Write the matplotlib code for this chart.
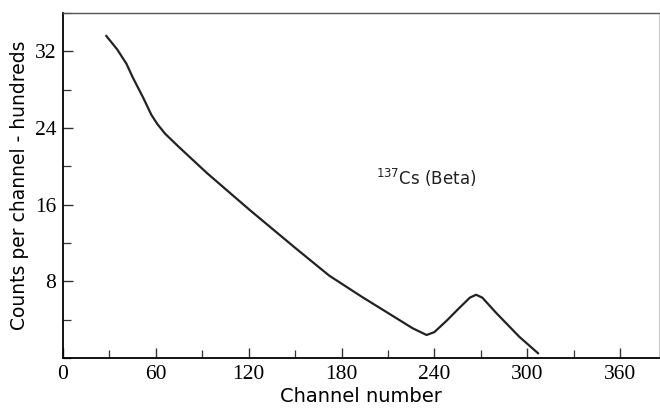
import matplotlib.pyplot as plt
from matplotlib.ticker import MultipleLocator

# 137Cs beta spectrum
channel = [28, 35, 41, 45, 52, 57, 61, 66, 75, 93, 121, 150, 172, 193, 205, 226,
           235, 240, 248, 256, 263, 267, 271, 280, 295, 307]
counts = [33.6, 32.2, 30.7, 29.3, 27.1, 25.4, 24.4, 23.4, 22.0, 19.3, 15.4, 11.5,
          8.6, 6.4, 5.2, 3.1, 2.4, 2.7, 3.9, 5.2, 6.3, 6.6, 6.3, 4.7, 2.2, 0.5]
xticks = [0, 60, 120, 180, 240, 300, 360]
yticks = [8, 16, 24, 32]

fig = plt.figure(figsize=(6.6, 4.19), dpi=100)
ax = fig.add_axes([0.0955, 0.1456, 0.9025, 0.8234])
ax.plot(channel, counts, color='#222222', lw=1.6, solid_joinstyle='round')

ax.set_xlim(0, 385)
ax.set_ylim(0, 36)
ax.set_xticks(xticks)
ax.set_yticks(yticks)
ax.xaxis.set_minor_locator(MultipleLocator(30))
ax.yaxis.set_minor_locator(MultipleLocator(4))
ax.tick_params(which='both', direction='in', top=False, right=False, color='#333333')
ax.tick_params(which='major', length=7, width=1.0, labelsize=15.5, pad=5)
ax.tick_params(which='minor', length=6, width=0.9)
for lab in ax.get_xticklabels() + ax.get_yticklabels():
    lab.set_family('Liberation Serif')

for side in ['left', 'bottom']:
    ax.spines[side].set_linewidth(1.3)
ax.spines['top'].set_linewidth(1.0)
ax.spines['top'].set_color('#555555')
ax.spines['right'].set_linewidth(0.6)
ax.spines['right'].set_color('#bbbbbb')

ax.set_xlabel('Channel number', fontsize=14, family='DejaVu Sans', labelpad=2)
ax.set_ylabel('Counts per channel - hundreds', fontsize=13.5, family='DejaVu Sans', labelpad=4)
ax.text(202, 18, r'$^{137}$Cs (Beta)', fontsize=12, family='DejaVu Sans',
        color='#222222')

fig.savefig('out.png', dpi=100)
